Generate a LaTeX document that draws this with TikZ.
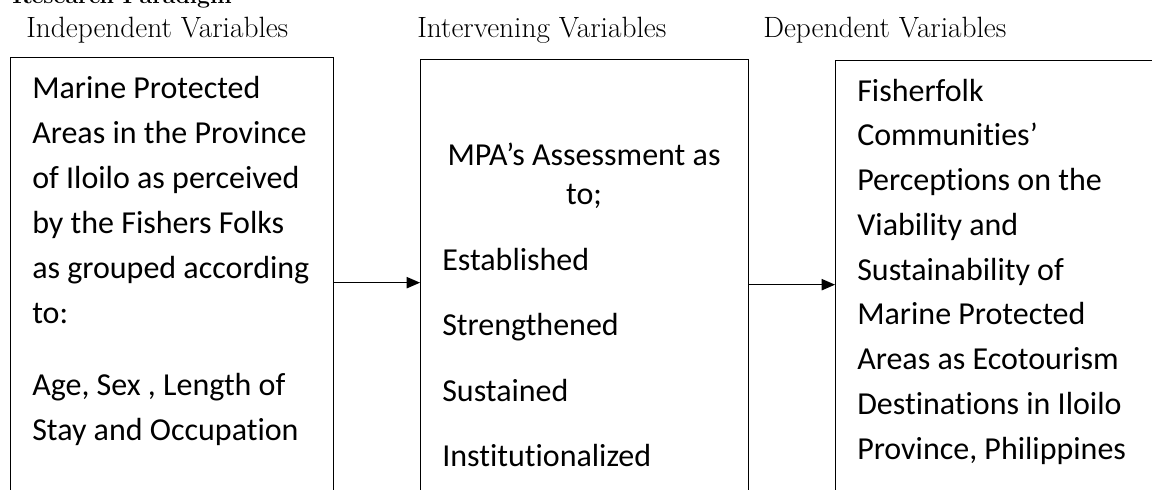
\documentclass[tikz,border=0pt]{standalone}
\usepackage{fontspec}
\newfontfamily\bodyfont[Ligatures={NoCommon,NoContextual}]{Carlito}
\usetikzlibrary{arrows.meta}

\tikzset{
  box/.style={draw, line width=1pt, anchor=north west, inner sep=0pt,
    minimum width=#1, minimum height=337.5pt},
  txt/.style={anchor=base west, inner sep=0pt, font=\bodyfont\fontsize{24}{29}\selectfont},
  head/.style={anchor=base west, inner sep=0pt, font=\fontsize{22}{26}\selectfont},
  arrow/.style={-{Triangle[length=10pt,width=8.5pt]}, line width=0.9pt}
}

\begin{document}
\begin{tikzpicture}[x=0.75pt,y=-0.75pt]
\useasboundingbox (0,0) rectangle (1152,489);

% title, cut off at the top
\node[head, font=\bfseries\fontsize{17.3}{20}\selectfont] (title) at (12,3.5) {Research Paradigm};

% column heads
\node[head] (hindep) at (26,37) {Independent Variables};
\node[head] (hinter) at (417,37) {Intervening Variables};
\node[head] (hdep) at (763,37) {Dependent Variables};

% boxes
\node[box=242.25pt] (indep) at (10,57) {};
\node[box=246pt] (inter) at (420,59) {};
\node[box=243.75pt] (dep) at (835,60) {};

% independent variables
\foreach \line [count=\i] in {Marine Protected, Areas in the Province, of Iloilo as perceived, by the Fishers Folks, as grouped according, to:}
  \node[txt] (ind\i) at (32,{98+45*(\i-1)}) {\line};
\node[txt] (ind7) at (32,395) {Age, Sex , Length of};
\node[txt] (ind8) at (32,440) {Stay and Occupation};

% intervening variables
\node[txt, anchor=base] (int1) at (584,165) {MPA’s Assessment as};
\node[txt, anchor=base] (int2) at (584,204) {to;};
\foreach \line [count=\i] in {Established, Strengthened, Sustained, Institutionalized}
  \node[txt] (lev\i) at (442,{270+65.6*(\i-1)}) {\line};

% dependent variables
\foreach \line [count=\i] in {Fisherfolk, Communities’, Perceptions on the, Viability and, Sustainability of, Marine Protected, Areas as Ecotourism, Destinations in Iloilo, {Province, Philippines}}
  \node[txt] (dep\i) at (857,{101+44.75*(\i-1)}) {\line};

% arrows
\draw[arrow] (indep.east) -- (indep.east -| inter.west);
\draw[arrow] (inter.east) -- (inter.east -| dep.west);
\end{tikzpicture}
\end{document}
